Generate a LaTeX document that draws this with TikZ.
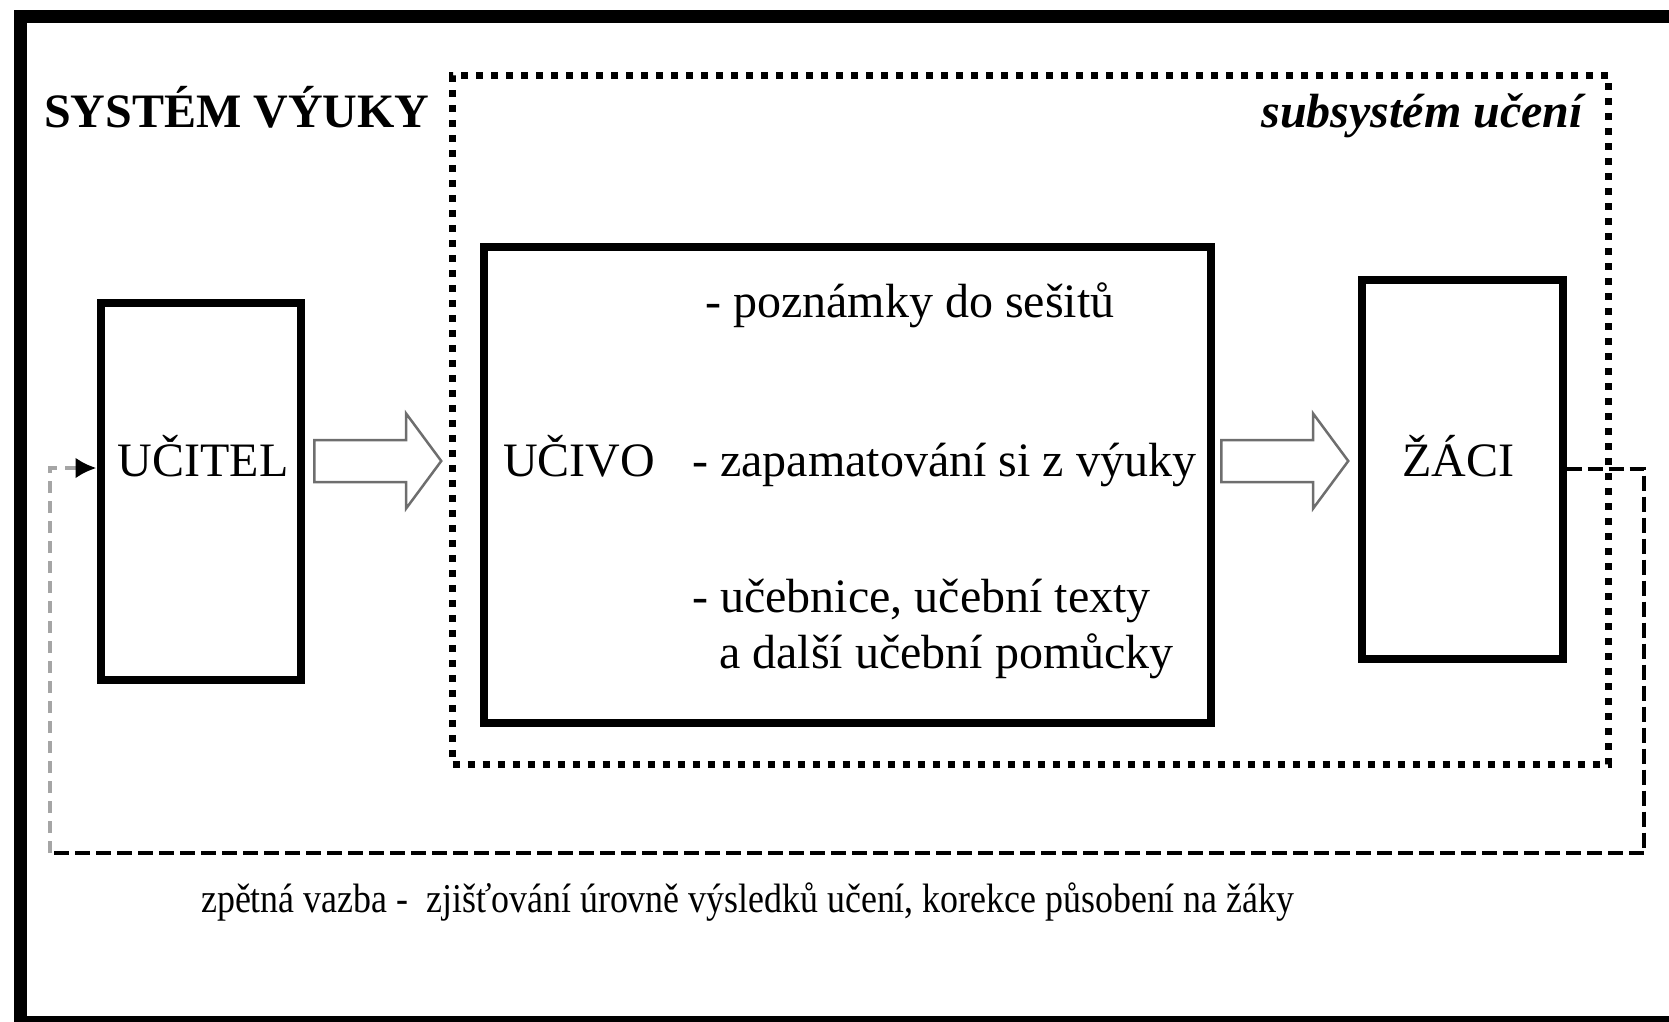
\documentclass[tikz,border=0pt]{standalone}
\usepackage{graphicx}
\usepackage{fontspec}
\setmainfont{Liberation Serif}
\usetikzlibrary{arrows.meta, positioning, shapes.arrows}
\definecolor{arrowgray}{RGB}{110,110,110}
\definecolor{fbgray}{RGB}{165,165,165}
\newcommand{\bigtxt}{\fontsize{48}{58}\selectfont}
\newcommand{\smalltxt}{\fontsize{41}{49}\selectfont}

\begin{document}
\begin{tikzpicture}[x=1pt, y=-1pt, >={Latex[length=21pt, width=21pt, color=black]}]
            \tikzstyle{box}=[draw, line width=8pt, inner sep=0pt]
            \tikzstyle{txt}=[inner sep=0pt, font=\bigtxt]
            \tikzstyle{hollow}=[single arrow, draw=arrowgray, line width=2.5pt, minimum height=127pt, inner xsep=0pt, inner ysep=19.75pt, single arrow head extend=26.5pt, single arrow tip angle=107, anchor=tail]
            \tikzstyle{fb}=[line width=4pt, dash pattern=on 15pt off 6pt]

            \useasboundingbox (0,0) rectangle (1669,1021);
            \draw[line width=13pt] (20.5,16.5) rectangle (1700,1022);

            % subsystem of learning
            \node[draw, line width=7pt, dash pattern=on 7pt off 8pt, minimum width=1155.5pt, minimum height=689pt] (subsys) at (1030.25,419.5) {};

            \node[box, minimum width=200.5pt, minimum height=377pt] (ucitel) at (200.75,491.5) {};
            \node[box, minimum width=727pt, minimum height=475.5pt] (ucivo) at (847,484.75) {};
            \node[box, minimum width=201pt, minimum height=379pt] (zaci) at (1462,469) {};

            \node[txt, font=\bigtxt\bfseries, anchor=base west] (title) at (44,127) {SYSTÉM VÝUKY};
            \node[txt, font=\bigtxt\bfseries\itshape, anchor=base east] (subtitle) at (1583,127) {subsystém učení};
            \node[txt, anchor=base] (ucitelT) at (203,476) {UČITEL};
            \node[txt, anchor=base west] (ucivoT) at (503,476) {UČIVO};
            \node[txt, anchor=base west] (item1) at (705,317) {- poznámky do sešitů};
            \node[txt, anchor=base west] (item2) at (692,476) {- zapamatování si z výuky};
            \node[txt, anchor=base west] (item3) at (692,612) {- učebnice, učební texty};
            \node[txt, anchor=base west] (item3b) at (719,668) {a další učební pomůcky};
            \node[txt, anchor=base] (zaciT) at (1458,476) {ŽÁCI};

            \node[hollow] (arr1) at (313,461) {};
            \node[hollow] (arr2) at (1220,461) {};

            % feedback loop
            \coordinate (fbR) at (1644,469);
            \coordinate (fbBR) at (1644,853);
            \coordinate (fbBL) at (50,853);
            \coordinate (fbL) at (50,468);
            \draw[fb] (zaci.east) -- (fbR) -- (fbBR) -- (fbBL);
            \draw[fb, draw=fbgray, dash pattern=on 12pt off 8pt, ->] (fbBL) -- (fbL) -- (fbL -| ucitel.west);

            \node[inner sep=0pt, font=\smalltxt, anchor=base west] (fbT) at (201,912) {\scalebox{0.875}[1]{zpětná vazba -~ zjišťování úrovně výsledků učení, korekce působení na žáky}};

          \end{tikzpicture}
\end{document}
